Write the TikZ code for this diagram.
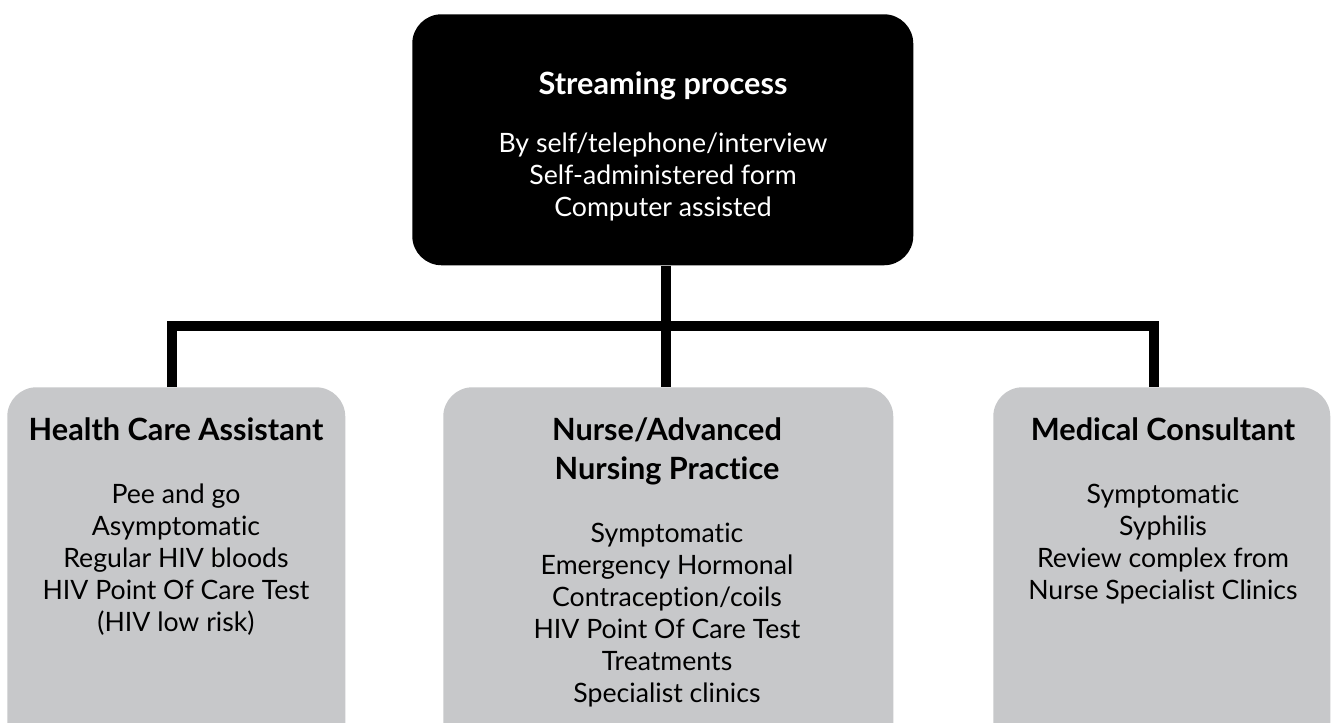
\documentclass[tikz,border=0pt]{standalone}
\usepackage{fontspec}
\setmainfont{Lato}[Ligatures={NoCommon,NoRequired,NoContextual}]
\definecolor{boxgray}{HTML}{C7C8CA}
\begin{document}
\begin{tikzpicture}[x=0.75pt,y=-0.75pt,
  box/.style={draw=none, rounded corners=22pt, inner sep=0pt, anchor=north west},
  topbox/.style={box, fill=black, minimum width=375.75pt, minimum height=188.25pt},
  subbox/.style={box, fill=boxgray, minimum height=300pt},
  conn/.style={line width=7.5pt, line join=miter, black},
  ttl/.style={anchor=north, align=center, inner sep=0pt, font=\fontsize{23}{29.25}\selectfont\bfseries},
  body/.style={anchor=north, align=center, inner sep=0pt, font=\fontsize{20}{24}\selectfont}]
\clip (0,0) rectangle (1332,722);
\fill[white] (0,0) rectangle (1332,722);
% boxes
\node[topbox] (top) at (412,14) {};
\node[subbox, minimum width=253.5pt] (left) at (7,387) {};
\node[subbox, minimum width=337.5pt] (mid) at (443,387) {};
\node[subbox, minimum width=252.75pt] (right) at (993,387) {};
% bus coordinates
\coordinate (busL) at (172,326);
\coordinate (busM) at (666,326);
\coordinate (busR) at (1154,326);
% connectors
\draw[conn] (left.north -| busL) -- (busL) -- (busR) -- (right.north -| busR);
\draw[conn] (top.south -| busM) -- (mid.north -| busM);
% texts
\node[ttl, text=white] (toptitle) at (663,71) {Streaming process};
\node[body, text=white] (topbody) at (663,133) {By self/telephone/interview\\Self-administered form\\Computer assisted};
\node[ttl] (lefttitle) at (176,417) {Health Care Assistant};
\node[body] (leftbody) at (176,484) {Pee and go\\Asymptomatic\\Regular HIV bloods\\HIV Point Of Care Test\\(HIV low risk)};
\node[ttl] (midtitle) at (667,417) {Nurse/Advanced\\Nursing Practice};
\node[body] (midbody) at (667,523) {Symptomatic\\Emergency Hormonal\\Contraception/coils\\HIV Point Of Care Test\\Treatments\\Specialist clinics};
\node[ttl] (righttitle) at (1163,417) {Medical Consultant};
\node[body] (rightbody) at (1163,484) {Symptomatic\\Syphilis\\Review complex from\\Nurse Specialist Clinics};
\end{tikzpicture}
\end{document}
